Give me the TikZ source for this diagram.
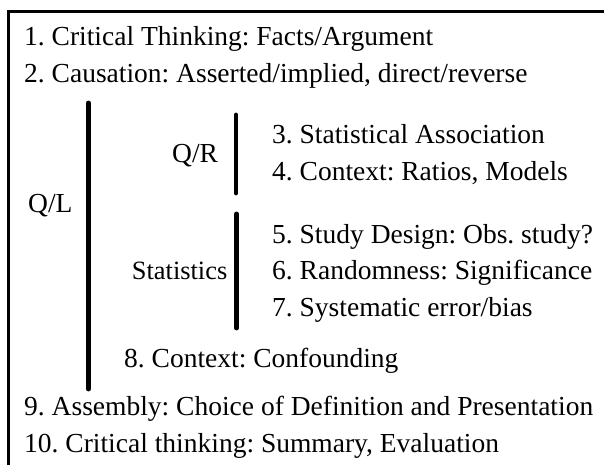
\documentclass[tikz,border=0pt]{standalone}
\usepackage{fontspec}
\setmainfont{Liberation Serif}
\begin{document}
\frenchspacing
\begin{tikzpicture}[x=1pt,y=-1pt,
  txt/.style={inner sep=0pt,anchor=base west,font=\fontsize{27.5}{30}\selectfont},
  bar/.style={line width=4.8pt,line cap=round},
  frame/.style={line width=3.6pt}]
\useasboundingbox (0,0) rectangle (604,465);
% frame (top and left edges visible)
\coordinate (fbl) at (8.5,470);
\coordinate (ftl) at (8.5,11.7);
\coordinate (ftr) at (610,11.7);
\draw[frame] (fbl) -- (ftl) -- (ftr);
% list items
\node[txt] (i1) at (24,46) {1. Critical Thinking: Facts/Argument};
\node[txt] (i2) at (24,83) {2. Causation: Asserted/implied, direct/reverse};
\node[txt] (i3) at (272,144) {3. Statistical Association};
\node[txt] (i4) at (272,180) {4. Context: Ratios, Models};
\node[txt] (i5) at (272,243) {5. Study Design: Obs. study?};
\node[txt] (i6) at (272,279) {6. Randomness: Significance};
\node[txt] (i7) at (272,316) {7. Systematic error/bias};
\node[txt] (i8) at (124,367) {8. Context: Confounding};
\node[txt] (i9) at (24,415) {9. Assembly: Choice of Definition and Presentation};
\node[txt] (i10) at (24,452) {10. Critical thinking: Summary, Evaluation};
% group labels
\node[txt] (ql) at (28,212) {Q/L};
\node[txt] (qr) at (172,163) {Q/R};
\node[inner sep=0pt,anchor=base east,font=\fontsize{26.4}{29}\selectfont] (st) at (227.5,279) {Statistics};
% bars
\coordinate (qlt) at (88.3,103);
\coordinate (qlb) at (88.3,389);
\coordinate (qrt) at (236,115);
\coordinate (qrb) at (236,193);
\coordinate (stt) at (236.7,214);
\coordinate (stb) at (236.7,328);
\draw[bar] (qlt) -- (qlb);
\draw[bar] (qrt) -- (qrb);
\draw[bar] (stt) -- (stb);
\end{tikzpicture}
\end{document}
